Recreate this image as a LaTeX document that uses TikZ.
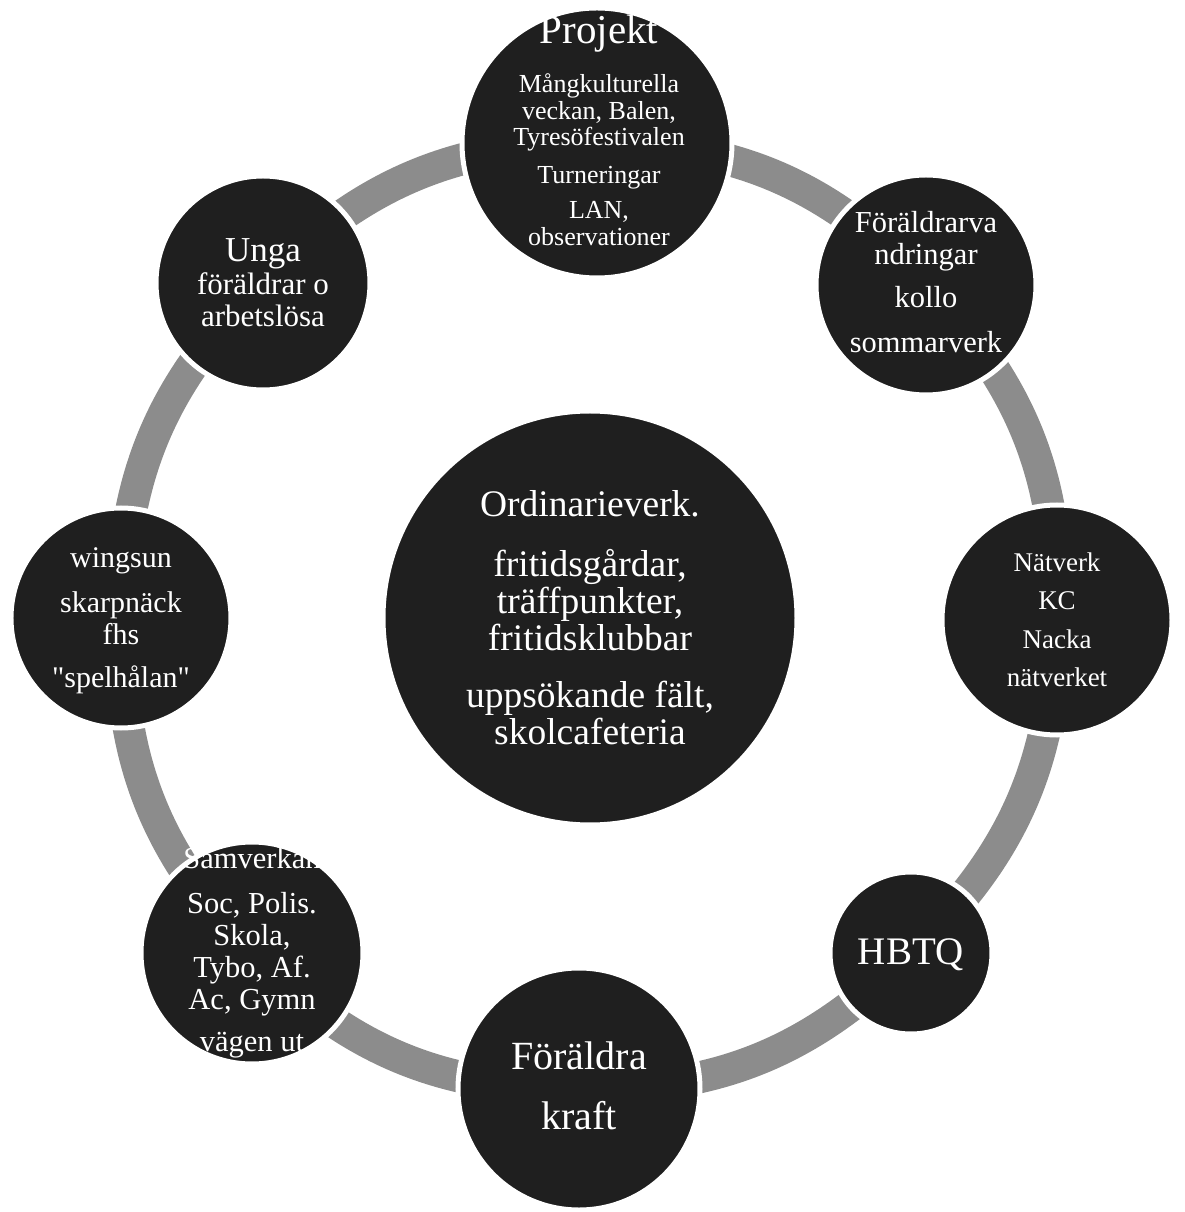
\documentclass[tikz,border=0pt]{standalone}
\usepackage{fontspec}
\setmainfont{Liberation Serif}
\usepackage{xcolor}
\usepackage{tikz}
\usetikzlibrary{positioning, calc, backgrounds}

\definecolor{bubblegray}{HTML}{1F1F1F}
\definecolor{ringgray}{HTML}{8C8C8C}

\begin{document}
\begin{tikzpicture}[x=1pt, y=1pt]
  \tikzstyle{bubble} = [circle, draw=white, line width=5pt, fill=bubblegray, inner sep=0pt]
  \tikzstyle{bubtext} = [text=white, align=center, inner sep=0pt]
  \tikzstyle{ringline} = [draw=ringgray, line width=32pt]

  \useasboundingbox (-589,-595) rectangle (595,617);

  % circles
  \node[bubble, minimum size=414] (Ordinarie) at (1,-1) {};
  \node[bubble, minimum size=270] (Projekt) at (8,474) {};
  \node[bubble, minimum size=220] (Vandring) at (337,332) {};
  \node[bubble, minimum size=230] (Natverk) at (468,-3) {};
  \node[bubble, minimum size=162] (HBTQ) at (322,-336) {};
  \node[bubble, minimum size=242] (Kraft) at (-10,-472) {};
  \node[bubble, minimum size=222] (Samverkan) at (-337,-336) {};
  \node[bubble, minimum size=220] (Wingsun) at (-468,-1) {};
  \node[bubble, minimum size=214] (Unga) at (-326,334) {};

  % texts
  \node[bubtext, font=\fontsize{37.5}{37}\selectfont] (OrdinarieText) at (Ordinarie)
    {Ordinarieverk.\\[23pt] fritidsgårdar,\\ träffpunkter,\\ fritidsklubbar\\[20pt] uppsökande fält,\\ skolcafeteria};
  \node[bubtext, font=\fontsize{26}{26.5}\selectfont] (ProjektText) at ($(Projekt)+(2,13)$)
    {{\fontsize{41}{41}\selectfont Projekt}\\[21pt] Mångkulturella\\ veckan, Balen,\\ Tyresöfestivalen\\[11pt] Turneringar\\[9pt] LAN,\\ observationer};
  \node[bubtext, font=\fontsize{30.5}{32}\selectfont] (VandringText) at ($(Vandring)+(0,3)$)
    {Föräldrarva\\ ndringar\\[11pt] kollo\\[13pt] sommarverk};
  \node[bubtext, font=\fontsize{27}{38.5}\selectfont] (NatverkText) at (Natverk)
    {Nätverk\\ KC\\ Nacka\\ nätverket};
  \node[bubtext, font=\fontsize{39}{40}\selectfont] (HBTQText) at ($(HBTQ)+(0,-2)$) {HBTQ};
  \node[bubtext, font=\fontsize{40}{60}\selectfont] (KraftText) at ($(Kraft)+(0,3)$)
    {Föräldra\\ kraft};
  \node[bubtext, font=\fontsize{30.5}{32}\selectfont] (SamverkanText) at (Samverkan)
    {Samverkan\\[13pt] Soc, Polis.\\ Skola,\\ Tybo, Af.\\ Ac, Gymn\\[10pt] vägen ut};
  \node[bubtext, font=\fontsize{30}{32}\selectfont] (WingsunText) at ($(Wingsun)+(0,-3)$)
    {wingsun\\[13pt] skarpnäck\\ fhs\\[11pt] {\addfontfeatures{Ligatures=TeXOff}"spelhålan"}};
  \node[bubtext, font=\fontsize{31}{32.5}\selectfont] (UngaText) at (Unga)
    {{\fontsize{35}{35}\selectfont Unga}\\ föräldrar o\\ arbetslösa};

  % ring behind the circles
  \begin{scope}[on background layer]
    \draw[ringline] (Projekt.center) to[bend left=22.5] (Vandring.center)
      to[bend left=22.5] (Natverk.center) to[bend left=22.5] (HBTQ.center)
      to[bend left=22.5] (Kraft.center) to[bend left=22.5] (Samverkan.center)
      to[bend left=22.5] (Wingsun.center) to[bend left=22.5] (Unga.center)
      to[bend left=22.5] (Projekt.center);
  \end{scope}
\end{tikzpicture}
\end{document}
